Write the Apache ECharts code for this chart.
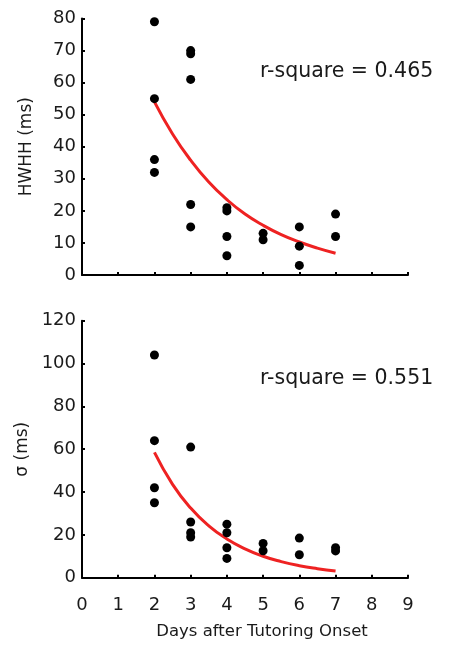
<!DOCTYPE html>
<html>
<head>
<meta charset="utf-8">
<script src="https://cdn.jsdelivr.net/npm/echarts@6/dist/echarts.min.js"></script>
<style>
html,body{margin:0;padding:0;background:#fff;}
#chart{width:449px;height:647px;}
</style>
</head>
<body>
<div id="chart"></div>
<script>
// ---- data ----
var xTicks = [0,1,2,3,4,5,6,7,8,9];

var hwhhDays   = [2,2,2,2, 3,3,3,3,3, 4,4,4,4, 5,5, 6,6,6, 7,7];
var hwhhValues = [79,55,36,32, 70,69,61,22,15, 21,20,12,6, 13,11, 15,9,3, 19,12];

var sigmaDays   = [2,2,2,2, 3,3,3,3, 4,4,4,4, 5,5, 6,6, 7,7];
var sigmaValues = [104,64,42,35, 61,26,21,19, 25,21,14,9, 16,12.6, 18.5,10.7, 14,12.5];

var fitDays  = [2,2.5,3,3.5,4,4.5,5,5.5,6,6.5,7];
var hwhhFit  = [54,44,35.8,29,23.5,19,15.5,12.6,10.3,8.4,6.8];
var sigmaFit = [58.5,43.6,32.5,24.2,18.1,13.5,10,7.5,5.6,4.2,3.1];

var hwhhR2 = 'r-square = 0.465';
var sigmaR2 = 'r-square = 0.551';

function pairs(xs, ys){ return xs.map(function(x,i){ return [x, ys[i]]; }); }

var FONT = 'DejaVu Sans';
var TXT = '#1a1a1a';
var axisLine = {show:true, onZero:false, lineStyle:{color:'#000', width:2}};
var axisTick = {show:true, inside:true, length:3, lineStyle:{color:'#000', width:2}};

var chart = echarts.init(document.getElementById('chart'), null, {renderer:'canvas'});
chart.setOption({
  animation:false,
  backgroundColor:'#fff',
  grid:[
    {left:82, width:326, top:18.5, height:256.5},
    {left:82, width:326, top:320.7, height:257}
  ],
  xAxis:[
    {gridIndex:0, type:'value', min:0, max:9, interval:1, axisLine:axisLine, axisTick:axisTick,
     axisLabel:{show:false}, splitLine:{show:false}},
    {gridIndex:1, type:'value', min:0, max:9, interval:1, axisLine:axisLine, axisTick:axisTick,
     axisLabel:{show:true, margin:19, fontFamily:FONT, fontSize:18, color:TXT},
     splitLine:{show:false},
     name:'Days after Tutoring Onset', nameLocation:'middle', nameGap:46,
     nameTextStyle:{fontFamily:FONT, fontSize:16.5, color:TXT, padding:[0,0,0,34]}}
  ],
  yAxis:[
    {gridIndex:0, type:'value', min:0, max:80, interval:10, axisLine:axisLine, axisTick:axisTick,
     axisLabel:{margin:6, fontFamily:FONT, fontSize:18, color:TXT}, splitLine:{show:false},
     name:'HWHH (ms)', nameLocation:'middle', nameGap:47,
     nameTextStyle:{fontFamily:FONT, fontSize:17, color:TXT}},
    {gridIndex:1, type:'value', min:0, max:120, interval:20, axisLine:axisLine, axisTick:axisTick,
     axisLabel:{margin:6, fontFamily:FONT, fontSize:18, color:TXT}, splitLine:{show:false},
     name:'σ (ms)', nameLocation:'middle', nameGap:47,
     nameTextStyle:{fontFamily:FONT, fontSize:17, color:TXT}}
  ],
  series:[
    {type:'line', xAxisIndex:0, yAxisIndex:0, data:pairs(fitDays, hwhhFit), smooth:true,
     showSymbol:false, lineStyle:{color:'#ee2222', width:3}, z:2},
    {type:'scatter', xAxisIndex:0, yAxisIndex:0, data:pairs(hwhhDays, hwhhValues),
     symbolSize:9, itemStyle:{color:'#000', opacity:1}, z:3},
    {type:'line', xAxisIndex:1, yAxisIndex:1, data:pairs(fitDays, sigmaFit), smooth:true,
     showSymbol:false, lineStyle:{color:'#ee2222', width:3}, z:2},
    {type:'scatter', xAxisIndex:1, yAxisIndex:1, data:pairs(sigmaDays, sigmaValues),
     symbolSize:9, itemStyle:{color:'#000', opacity:1}, z:3}
  ],
  graphic:[
    {type:'text', left:260, top:61, style:{text:hwhhR2, font:'20.5px "DejaVu Sans"', fill:TXT}},
    {type:'text', left:260, top:368, style:{text:sigmaR2, font:'20.5px "DejaVu Sans"', fill:TXT}}
  ]
});
</script>
</body>
</html>
